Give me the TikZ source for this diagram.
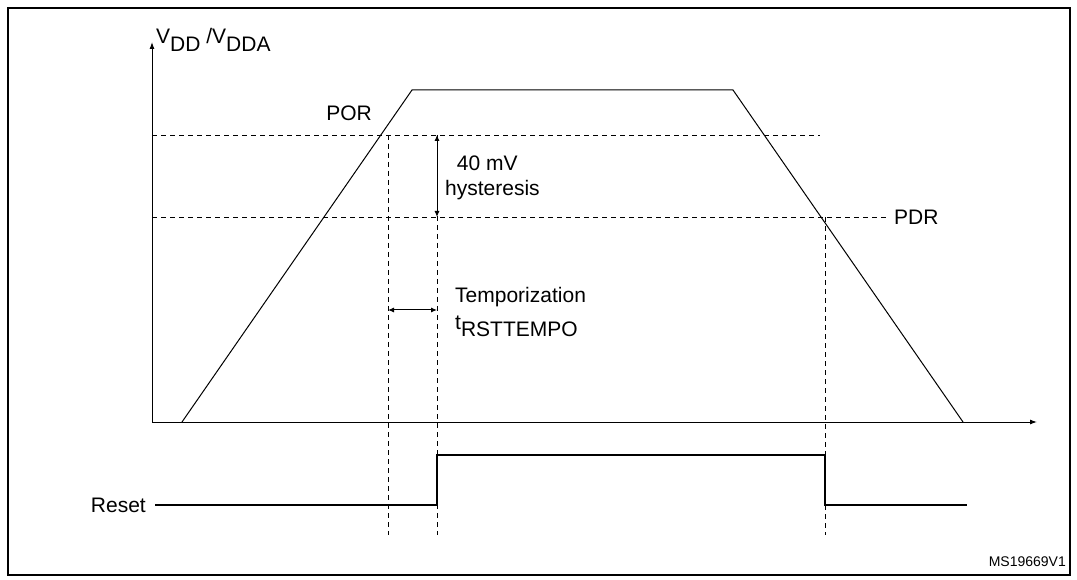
\documentclass[tikz,border=0pt]{standalone}
\usepackage{fontspec}
\setmainfont{Liberation Sans}
\usetikzlibrary{arrows.meta}
\newcommand{\lowered}[1]{\raisebox{-0.35em}{#1}}
\tikzset{
  axis/.style={->, >={Latex[length=7pt,width=5pt]}, line width=1pt},
  level/.style={dashed, dash pattern=on 5pt off 4pt, line width=0.8pt},
  span/.style={<->, >={Latex[length=6pt,width=5pt]}, line width=1pt},
  lbl/.style={font=\fontsize{21}{25}\selectfont, inner sep=0pt},
}
\begin{document}
\begin{tikzpicture}[x=1pt,y=-1pt]
\useasboundingbox (0,0) rectangle (1077,580);
\draw[line width=1.5pt] (8,8) rectangle (1070,575);

% axes
\coordinate (o) at (152,422);
\coordinate (ytop) at (152,42);
\coordinate (xend) at (1037,422);
\draw[axis] (o) -- (ytop);
\draw[axis] (o) -- (xend);
\node[lbl, anchor=base west] (vdd) at (156,44) {V\lowered{DD} /V\lowered{DDA}};

% supply curve
\coordinate (s0) at (182,422);
\coordinate (s1) at (412,90);
\coordinate (s2) at (733,90);
\coordinate (s3) at (963,422);
\draw[line width=1pt] (s0) -- (s1) -- (s2) -- (s3);

% thresholds
\coordinate (por0) at (152,135);
\coordinate (por1) at (820,135);
\coordinate (pdr0) at (152,217);
\coordinate (pdr1) at (888,217);
\draw[level] (por0) -- (por1);
\draw[level] (pdr0) -- (pdr1);
\node[lbl, anchor=east] (por) at (372,113) {POR};
\node[lbl, anchor=west] (pdr) at (894,217) {PDR};

% markers
\coordinate (a0) at (388,135);
\coordinate (a1) at (388,535);
\coordinate (b0) at (437,135);
\coordinate (b1) at (437,535);
\coordinate (c0) at (825,217);
\coordinate (c1) at (825,535);
\draw[level] (a0) -- (a1);
\draw[level] (b0) -- (b1);
\draw[level] (c0) -- (c1);

\coordinate (h1) at (437,217);
\draw[span] (b0) -- (h1);
\node[lbl, anchor=west, align=left] (hyst) at (445,178) {~~40 mV\\hysteresis};

\coordinate (t0) at (388,310);
\coordinate (t1) at (437,310);
\draw[span] (t0) -- (t1);
\node[lbl, anchor=west, align=left] (tempo) at (455,312) {Temporization\\[2pt]t\lowered{RSTTEMPO}};

% reset signal
\coordinate (r0) at (155,505);
\coordinate (r1) at (437,505);
\coordinate (r2) at (437,455);
\coordinate (r3) at (825,455);
\coordinate (r4) at (825,505);
\coordinate (r5) at (967,505);
\draw[line width=2pt] (r0) -- (r1) -- (r2) -- (r3) -- (r4) -- (r5);
\node[lbl, anchor=east] (reset) at (146,505) {Reset};

\node[font=\fontsize{14}{16}\selectfont, anchor=south east, inner sep=0pt] (ref) at (1066,567) {MS19669V1};
\end{tikzpicture}
\end{document}
